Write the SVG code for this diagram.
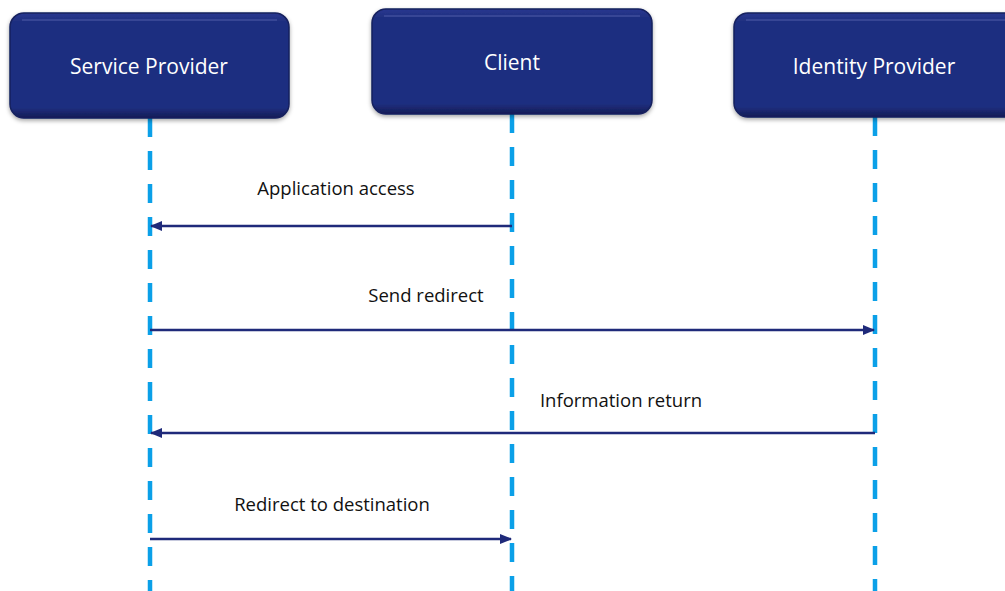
<svg xmlns="http://www.w3.org/2000/svg" width="1005" height="591" viewBox="0 0 1005 591">
  <style>
    .box { fill: url(#boxGrad); stroke: #16205e; stroke-width: 1.5; }
    .hl { fill: none; stroke: #4a5aa8; stroke-width: 1.5; opacity: 0.7; }
    .lbl { font-family: "Open Sans", "Liberation Sans", sans-serif; font-size: 21px; fill: #ffffff; text-anchor: middle; }
    .life { stroke: #0ba0e8; stroke-width: 4.5; stroke-dasharray: 19 14; fill: none; }
    .msg { stroke: #1f2a7a; stroke-width: 2.5; fill: none; marker-end: url(#arr); }
    .mtxt { font-family: "Open Sans", "Liberation Sans", sans-serif; font-size: 18.5px; fill: #111111; text-anchor: middle; }
  </style>
  <defs>
    <linearGradient id="boxGrad" x1="0" y1="0" x2="0" y2="1">
      <stop offset="0" stop-color="#2a3890"/>
      <stop offset="0.08" stop-color="#1f2f80"/>
      <stop offset="0.9" stop-color="#1f2f80"/>
      <stop offset="1" stop-color="#141c55"/>
    </linearGradient>
    <filter id="sh" x="-10%" y="-10%" width="120%" height="130%">
      <feDropShadow dx="0" dy="2" stdDeviation="2" flood-color="#000" flood-opacity="0.35"/>
    </filter>
    <marker id="arr" viewBox="0 0 10 10" refX="9" refY="5" markerWidth="5" markerHeight="5" orient="auto" markerUnits="strokeWidth">
      <path d="M0,1 L10,5 L0,9 z" fill="#1f2a7a"/>
    </marker>
  </defs>

  <g id="lifelines">
    <line class="life" x1="150" y1="118" x2="150" y2="591"/>
    <line class="life" x1="512" y1="114" x2="512" y2="591"/>
    <line class="life" x1="875" y1="117" x2="875" y2="591"/>
  </g>

  <g id="node-service-provider">
    <rect class="box" x="10" y="13" width="279" height="105" rx="14" filter="url(#sh)"/>
    <path class="hl" d="M22,20 H277"/>
    <text class="lbl" x="149" y="74">Service Provider</text>
  </g>
  <g id="node-client">
    <rect class="box" x="372" y="9" width="280" height="105" rx="14" filter="url(#sh)"/>
    <path class="hl" d="M384,16 H640"/>
    <text class="lbl" x="512" y="70">Client</text>
  </g>
  <g id="node-identity-provider">
    <rect class="box" x="734" y="13" width="285" height="104" rx="14" filter="url(#sh)"/>
    <path class="hl" d="M746,20 H1005"/>
    <text class="lbl" x="874" y="74">Identity Provider</text>
  </g>

  <g id="connectors">
    <line class="msg" x1="512" y1="226" x2="151" y2="226"/>
    <line class="msg" x1="150" y1="330" x2="874" y2="330"/>
    <line class="msg" x1="875" y1="433" x2="151" y2="433"/>
    <line class="msg" x1="150" y1="539" x2="511" y2="539"/>
    <text class="mtxt" x="336" y="195">Application access</text>
    <text class="mtxt" x="426" y="302">Send redirect</text>
    <text class="mtxt" x="621" y="407">Information return</text>
    <text class="mtxt" x="332" y="511">Redirect to destination</text>
  </g>
</svg>
